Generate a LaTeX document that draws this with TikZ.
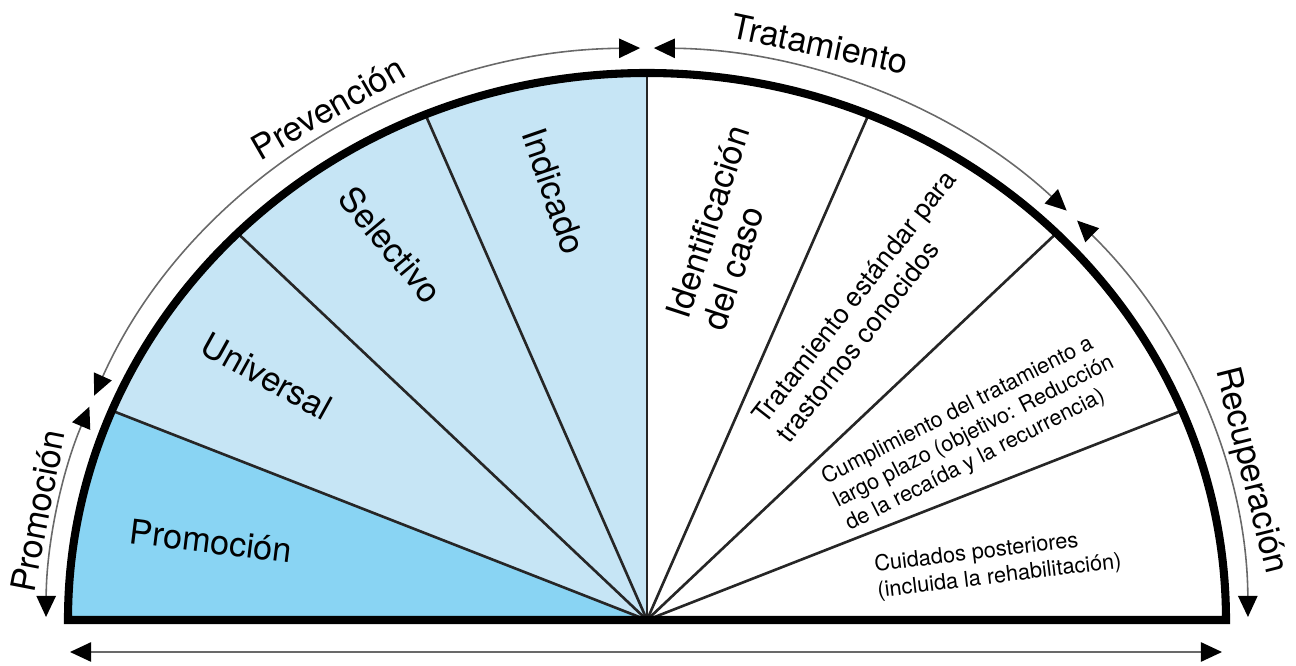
\documentclass[tikz,border=0pt]{standalone}
\usepackage{fontspec}
\setmainfont{TeX Gyre Heros}
\usetikzlibrary{arrows.meta}
\definecolor{promofill}{RGB}{137,212,243}
\definecolor{prevfill}{RGB}{198,229,245}
\definecolor{guide}{RGB}{105,105,105}
\begin{document}
\begin{tikzpicture}[x=0.02cm,y=0.02cm,
  rim/.style={line width=4.6pt, line join=miter},
  spoke/.style={line width=1.5pt, black!85},
  span/.style={guide, line width=0.9pt,
    {Triangle[length=12pt,width=11pt,black]}-{Triangle[length=12pt,width=11pt,black]}},
  big/.style={font=\fontsize{19.5}{21.8}\selectfont, inner sep=0pt, align=left},
  mid/.style={font=\fontsize{15.2}{17.6}\selectfont, inner sep=0pt, align=left},
  small/.style={font=\fontsize{12.4}{14.8}\selectfont, inner sep=0pt, align=left}]

\useasboundingbox (-647,-46) rectangle (649,620);
\def\RX{579}\def\RY{547}
\def\OX{601}\def\OY{572}

% sector fills
\fill[promofill] (0,0) -- (-\RX,0)
  arc[start angle=180, end angle=157.5, x radius=\RX, y radius=\RY] -- cycle;
\fill[prevfill] (0,0) -- ({\RX*cos(157.5)},{\RY*sin(157.5)})
  arc[start angle=157.5, end angle=90, x radius=\RX, y radius=\RY] -- cycle;

% spokes from the hub to the rim
\coordinate (hub) at (0,0);
\foreach \a in {22.5,45,67.5,90,112.5,135,157.5}
  \draw[spoke] (hub) -- ({\RX*cos(\a)},{\RY*sin(\a)});

% outline of the half disc
\draw[rim] (-\RX,0)
  arc[start angle=180, end angle=0, x radius=\RX, y radius=\RY] -- cycle;

% span arrows around the rim
\draw[span] ({\OX*cos(179.7)},{\OY*sin(179.7)})
  arc[start angle=179.7, end angle=158.1, x radius=\OX, y radius=\OY];
\draw[span] ({\OX*cos(156.9)},{\OY*sin(156.9)})
  arc[start angle=156.9, end angle=90.65, x radius=\OX, y radius=\OY];
\draw[span] ({\OX*cos(89.35)},{\OY*sin(89.35)})
  arc[start angle=89.35, end angle=45.7, x radius=\OX, y radius=\OY];
\draw[span] ({\OX*cos(44.3)},{\OY*sin(44.3)})
  arc[start angle=44.3, end angle=0.3, x radius=\OX, y radius=\OY];

% span arrow under the base
\coordinate (baseL) at (-577,-32);
\coordinate (baseR) at (575,-32);
\draw[span] (baseL) -- (baseR);

% outer labels
\node[big, rotate=30]  (lblPrev) at (-319,512) {Prevención};
\node[big, rotate=-12] (lblTrat) at (173,576) {Tratamiento};
\node[big, rotate=79]  (lblProm) at (-609,109) {Promoción};
\node[big, rotate=-76] (lblRecu) at (603,149) {Recuperación};

% sector labels
\node[big, rotate=-7]  (sPromo) at (-436,79) {Promoción};
\node[big, rotate=-29] (sUniv)  at (-380,244) {Universal};
\node[big, rotate=-50] (sSel)   at (-256,375) {Selectivo};
\node[big, rotate=-71] (sInd)   at (-93,429) {Indicado};
\node[big, rotate=72]  (sIdent) at (79,392) {Identificación\\del caso};
\node[mid, rotate=52]  (sTrat)  at (219,314) {Tratamiento estándar para\\trastornos conocidos};
\node[small, rotate=27] (sCump) at (327,188)
  {Cumplimiento del tratamiento a\\largo plazo (objetivo: Reducción\\de la recaída y la recurrencia)};
\node[small, rotate=7] (sCuid)  at (351,56) {Cuidados posteriores\\(incluida la rehabilitación)};
\end{tikzpicture}
\end{document}
